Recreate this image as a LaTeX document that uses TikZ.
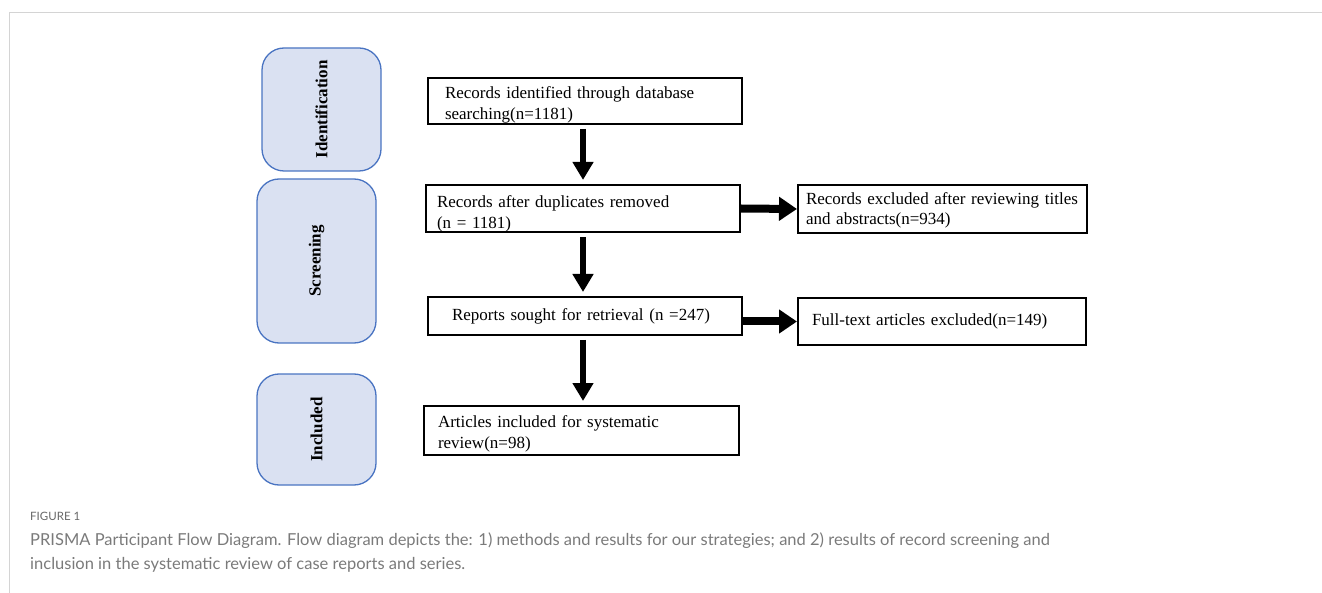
\documentclass[tikz,border=0pt]{standalone}
\usepackage{graphicx}
\usepackage{fontspec}
\setmainfont{Liberation Serif}
\newfontfamily\capfont{Lato}
\usetikzlibrary{arrows.meta,positioning,calc}

\definecolor{stagefill}{HTML}{DAE1F2}
\definecolor{stageline}{HTML}{4A74C2}
\definecolor{framegray}{HTML}{D4D4D4}
\definecolor{capgray}{HTML}{7A7A7A}

\tikzset{
  stage/.style={draw=stageline, fill=stagefill, line width=1.3pt, rounded corners=22pt,
    inner sep=0pt, font=\fontsize{17}{20}\selectfont\bfseries},
  flowbox/.style={draw, line width=2pt, align=left, inner ysep=0pt,
    font=\fontsize{17}{20.5}\selectfont},
  downarrow/.style={line width=6pt, -{Triangle[width=20pt,length=18pt]},
    shorten <=4pt, shorten >=4pt},
  sidearrow/.style={line width=8pt, -{Triangle[width=23pt,length=18pt]}},
  captext/.style={anchor=base west, inner sep=0pt, text=capgray},
}

\begin{document}
\begin{tikzpicture}[x=1pt, y=-1pt]
    \useasboundingbox (0,0) rectangle (1322,593);
    % page frame
    \draw [framegray, line width=1.5pt] (9.5,12.5) -- (1322,12.5);
    \draw [framegray, line width=1pt] (9.5,12.5) -- (9.5,593);

    % stages
    \node [stage, minimum width=119pt, minimum height=123pt] (ident) at (321.5,109.5) {\rotatebox{90}{Identification}};
    \node [stage, minimum width=119pt, minimum height=164pt] (screen) at (316.5,261) {\rotatebox{90}{Screening}};
    \node [stage, minimum width=119pt, minimum height=111pt] (incl) at (316.5,429.5) {\rotatebox{90}{Included}};

    % main column
    \node [flowbox, text width=280pt, inner xsep=17pt, minimum height=46pt, text height=20pt] (found) at (585,101)
        {Records identified through database\\searching(n=1181)};
    \node [flowbox, text width=292pt, inner xsep=11pt, minimum height=47pt, text height=23pt] (dedup) at (583,208.5)
        {Records after duplicates removed\\(n = 1181)};
    \node [flowbox, text width=266pt, inner xsep=24pt, minimum height=38pt] (sought) at (585,316)
        {Reports sought for retrieval (n =247)};
    \node [flowbox, text width=287pt, inner xsep=14pt, minimum height=49pt, text height=19pt] (review) at (581.5,430.5)
        {Articles included for systematic\\review(n=98)};

    % exclusions
    \node [flowbox, text width=273pt, inner xsep=8pt, minimum height=48pt, text height=15pt] (exclA) at (942.5,209)
        {Records~excluded~after~reviewing~titles\\and abstracts(n=934)};
    \node [flowbox, text width=260pt, inner xsep=14pt, minimum height=47pt] (exclB) at (942,321.5)
        {Full-text articles excluded(n=149)};

    % arrows
    \coordinate (axis) at (583,0);
    \draw [downarrow] (found.south -| axis) -- (dedup.north -| axis);
    \draw [downarrow] (dedup.south -| axis) -- (sought.north -| axis);
    \draw [downarrow] (sought.south -| axis) -- (review.north -| axis);
    \draw [sidearrow] (dedup.east) -- (exclA.west);
    \draw [sidearrow] (sought.east |- exclB.west) -- (exclB.west);

    % caption
    \node [captext, text=capgray!85!black, font=\capfont\fontsize{11.5}{14}\selectfont] (fig) at (30,520) {FIGURE 1};
    \node [captext, font=\capfont\fontsize{16.5}{24}\selectfont] (cap1) at (30,545)
        {PRISMA Participant Flow Diagram. Flow diagram depicts the: 1) methods and results for our strategies; and 2) results of record screening and};
    \node [captext, font=\capfont\fontsize{16.5}{24}\selectfont] (cap2) at (30,569)
        {inclusion in the systematic review of case reports and series.};
\end{tikzpicture}
\end{document}
